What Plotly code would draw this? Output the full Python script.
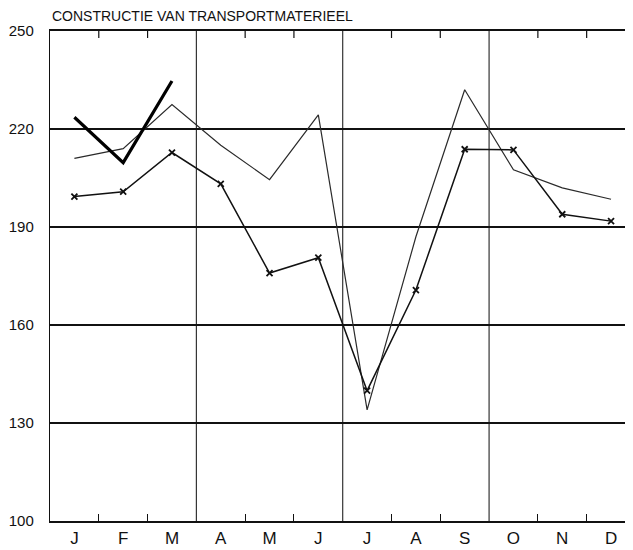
import plotly.graph_objects as go

months = ["J", "F", "M", "A", "M", "J", "J", "A", "S", "O", "N", "D"]
x_pos = [i + 0.5 for i in range(12)]

thin_series = [211, 214, 227.5, 215, 204.5, 224.3, 134, 187, 232, 207.5, 202, 198.5]
marker_series = [199.3, 200.8, 212.8, 203.2, 175.9, 180.6, 139.9, 170.7, 213.8, 213.6, 193.9, 191.8]
thick_series = [223.6, 209.7, 234.7]

y_ticks = [100, 130, 160, 190, 220, 250]
quarter_lines = [3, 6, 9]
minor_ticks = [1, 2, 4, 5, 7, 8, 10, 11]

fig = go.Figure()

fig.add_trace(go.Scatter(x=x_pos, y=thin_series, mode="lines",
                         line=dict(color="#2a2a2a", width=1.2), showlegend=False))
fig.add_trace(go.Scatter(x=x_pos, y=marker_series, mode="lines+markers",
                         line=dict(color="#111111", width=1.5),
                         marker=dict(symbol="x-thin", size=6, line=dict(color="#111111", width=1.8)),
                         showlegend=False))
fig.add_trace(go.Scatter(x=x_pos[:3], y=thick_series, mode="lines",
                         line=dict(color="#000000", width=3.2), showlegend=False))

for q in quarter_lines:
    fig.add_shape(type="line", x0=q, x1=q, y0=0, y1=1, xref="x", yref="paper",
                  line=dict(color="#222222", width=1.1), layer="below")

# inward tick marks along the top frame
for t in minor_ticks:
    fig.add_shape(type="line", x0=t, x1=t, y0=1, y1=1 - 7 / 490, xref="x", yref="paper",
                  line=dict(color="#111111", width=1.2))

fig.update_layout(
    width=625, height=542,
    margin=dict(l=42, r=0, t=23, b=29, autoexpand=False),
    paper_bgcolor="white", plot_bgcolor="white",
    font=dict(family="Liberation Sans", color="#111111"),
    xaxis=dict(range=[0, 11.95], tickvals=x_pos, ticktext=months,
               ticks="", showgrid=False, zeroline=False, automargin=False,
               showline=True, linecolor="#111111", linewidth=1.6, mirror=True,
               tickfont=dict(size=17, family="Liberation Sans"), ticklabelstandoff=1,
               minor=dict(tickvals=minor_ticks, ticks="inside", ticklen=7,
                          tickcolor="#111111", tickwidth=1.2, showgrid=False)),
    yaxis=dict(range=[100, 250], tickvals=y_ticks, ticks="", automargin=False,
               showgrid=True, gridcolor="#111111", gridwidth=2,
               zeroline=False, showline=True, linecolor="#111111", linewidth=1.4,
               tickfont=dict(size=15, family="Liberation Sans"), ticklabelstandoff=12),
    annotations=[dict(text="CONSTRUCTIE VAN TRANSPORTMATERIEEL", x=0, y=1, xref="paper", yref="paper",
                      xanchor="left", yanchor="bottom", yshift=5, showarrow=False,
                      font=dict(size=14, family="Liberation Sans", color="#111111"))],
)

fig.write_html("out.html")
